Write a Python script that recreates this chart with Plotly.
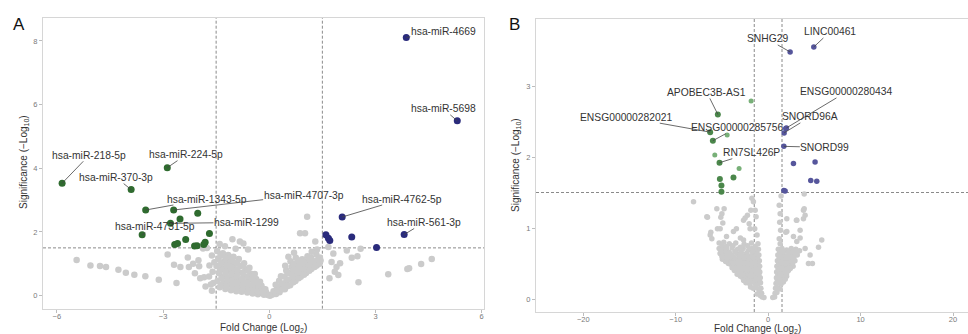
import plotly.graph_objects as go

# ---------------- Panel A data (miRNA) ----------------
a_down_names = ["hsa-miR-218-5p", "hsa-miR-370-3p", "hsa-miR-224-5p", "hsa-miR-1343-5p", "hsa-miR-4707-3p",
                "", "", "hsa-miR-1299", "hsa-miR-4731-5p", "", "", "", "", "", "", "", ""]
a_down_x = [-5.85, -3.90, -2.88, -3.49, -2.70, -2.02, -2.52, -2.79, -3.59, -1.69, -2.36, -2.67, -2.59, -2.11, -2.04, -1.85, -1.81]
a_down_y = [3.53, 3.33, 4.02, 2.69, 2.69, 2.59, 2.41, 2.27, 1.91, 1.95, 1.76, 1.61, 1.64, 1.56, 1.57, 1.61, 1.68]

a_up_names = ["hsa-miR-4669", "hsa-miR-5698", "hsa-miR-4762-5p", "hsa-miR-561-3p", "", "", "", "", ""]
a_up_x = [3.87, 5.31, 2.06, 3.81, 1.60, 1.67, 1.71, 2.33, 3.03]
a_up_y = [8.11, 5.49, 2.47, 1.92, 1.91, 1.80, 1.73, 1.84, 1.51]

a_ns_x = [
    -5.44, -5.05, -4.78, -4.61, -4.26, -4.05, -3.81, -3.50, -3.12, -2.62, -2.87, -2.69, -2.51, -2.27, -2.00, -1.98,
    -1.80, -1.84, -1.69, -1.62, -1.76, -1.87,
    -1.04, -0.83, -0.73, -1.25, -0.95, -1.40, -0.60,
    -1.47, -1.44, -1.49, -1.42, -1.46, -1.40,
    -1.31, -1.28, -1.33, -1.26, -1.30, -1.24,
    -1.16, -1.12, -1.18, -1.10, -1.14, -1.08,
    -1.01, -0.97, -1.03, -0.95, -0.99, -0.93,
    -0.86, -0.82, -0.88, -0.80, -0.84, -0.78,
    -0.71, -0.67, -0.73, -0.65, -0.69, -0.62,
    -0.56, -0.52, -0.58, -0.50, -0.54, -0.47,
    -0.41, -0.37, -0.43, -0.35, -0.39, -0.32,
    -0.26, -0.22, -0.28, -0.20, -0.15,
    -0.11, -0.08, -0.04, 0.02,
    -1.60, -1.58, -1.62, -1.70, -1.55,
    -1.38, -1.36, -1.39, -1.35, -1.37,
    -1.22, -1.20, -1.23, -1.19, -1.21,
    -1.06, -1.05, -1.07, -1.03, -1.04,
    -0.91, -0.90, -0.92, -0.89, -0.90,
    -0.76, -0.75, -0.77, -0.74, -0.75,
    -0.61, -0.60, -0.62, -0.59, -0.60,
    -0.46, -0.45, -0.47, -0.44,
    -0.31, -0.30, -0.32, -0.18, -0.17,
    -2.10, -2.30, -1.95, -2.15, -1.65,
    0.08, 0.12, 0.19, 0.22, 0.18, 0.29, 0.32, 0.28, 0.33,
    0.44, 0.47, 0.43, 0.48, 0.45, 0.59, 0.62, 0.58, 0.63, 0.60,
    0.74, 0.77, 0.73, 0.78, 0.75, 0.89, 0.92, 0.88, 0.93,
    1.04, 1.07, 1.03, 1.08, 1.19, 1.22, 1.18, 1.34, 1.37, 1.33,
    0.25, 0.37, 0.38, 0.52, 0.53, 0.52, 0.68, 0.67, 0.68, 0.69, 0.83, 0.82, 0.84, 0.83,
    0.98, 0.97, 0.99, 1.13, 1.12, 1.13, 1.28, 1.27, 1.42, 1.43,
    0.54, 0.87, 1.01, 1.07, 1.30, 1.35, 1.20, 0.70, 1.45,
    1.67, 1.81, 1.76, 1.90, 2.19, 2.33, 2.58, 2.49, 2.52, 3.36, 3.90, 3.95, 4.29, 4.59, 1.85, 1.95, 1.70, 2.00,
]
a_ns_y = [
    1.12, 0.95, 0.93, 0.90, 0.81, 0.72, 0.66, 0.61, 0.50, 0.40, 1.29, 0.97, 0.90, 0.90, 1.11, 0.92,
    0.29, 0.58, 0.95, 1.26, 1.50, 1.48,
    1.77, 1.70, 1.64, 1.55, 1.47, 1.62, 1.45,
    1.40, 1.15, 0.93, 0.70, 0.47, 0.26,
    1.33, 1.08, 0.86, 0.62, 0.39, 0.21,
    1.28, 1.04, 0.80, 0.57, 0.35, 0.17,
    1.22, 0.99, 0.76, 0.54, 0.32, 0.14,
    1.15, 0.93, 0.71, 0.49, 0.29, 0.12,
    1.02, 0.83, 0.62, 0.42, 0.24, 0.10,
    0.88, 0.69, 0.50, 0.33, 0.18, 0.07,
    0.68, 0.52, 0.37, 0.23, 0.11, 0.04,
    0.44, 0.31, 0.19, 0.09, 0.03,
    0.20, 0.09, 0.02, 0.00,
    0.75, 0.40, 0.15, 0.60, 1.05,
    1.25, 1.00, 0.78, 0.55, 0.33,
    1.18, 0.95, 0.70, 0.47, 0.27,
    1.12, 0.88, 0.66, 0.44, 0.24,
    1.05, 0.82, 0.60, 0.40, 0.21,
    0.95, 0.73, 0.52, 0.33, 0.17,
    0.78, 0.59, 0.40, 0.25, 0.12,
    0.60, 0.45, 0.28, 0.15,
    0.40, 0.27, 0.14, 0.22, 0.12,
    0.70, 1.20, 0.55, 1.00, 0.35,
    0.03, 0.14, 0.05, 0.21, 0.34, 0.11, 0.29, 0.47, 0.61,
    0.20, 0.41, 0.59, 0.79, 0.94, 0.33, 0.52, 0.71, 0.90, 1.08,
    0.46, 0.64, 0.84, 1.01, 1.19, 0.59, 0.79, 0.97, 1.14,
    0.71, 0.90, 1.07, 1.24, 0.84, 1.03, 1.20, 0.95, 1.12, 1.29,
    0.15, 0.20, 0.38, 0.30, 0.50, 0.70, 0.42, 0.62, 0.80, 1.00, 0.55, 0.74, 0.92, 1.10,
    0.66, 0.85, 1.02, 0.78, 0.96, 1.14, 0.90, 1.08, 1.00, 1.20,
    1.22, 1.96, 1.96, 2.48, 1.70, 1.45, 1.38, 1.35, 1.10,
    1.53, 1.32, 1.06, 0.90, 1.42, 1.19, 1.47, 1.24, 0.42, 0.67, 0.84, 0.86, 0.99, 1.15, 0.75, 0.65, 0.55, 1.02,
]

# ---------------- Panel B data (lncRNA etc.) ----------------
b_down_names = ["APOBEC3B-AS1", "ENSG00000282021", "ENSG00000285756", "RN7SL426P", "", "", "", ""]
b_down_x = [-5.44, -6.27, -5.98, -5.26, -5.22, -5.05, -5.05, -3.75]
b_down_y = [2.60, 2.35, 2.23, 1.92, 1.69, 1.60, 1.51, 1.71]
b_down2_x = [-1.84, -4.43, -5.77, -3.14]
b_down2_y = [2.79, 2.31, 2.03, 1.84]

b_up_names = ["SNHG29", "LINC00461", "ENSG00000280434", "SNORD96A", "", "SNORD99", "", "", "", "", "", ""]
b_up_x = [2.38, 4.94, 1.98, 1.73, 1.91, 1.70, 2.74, 5.08, 4.61, 5.26, 1.70, 1.84]
b_up_y = [3.48, 3.55, 2.41, 2.34, 2.40, 2.15, 1.91, 1.93, 1.67, 1.66, 1.53, 1.52]

b_ns_x = [
    -0.45, -0.65, -0.85,
    -0.70, -0.95, -1.20,
    -0.78, -1.02, -1.30, -1.62, -1.90,
    -0.82, -1.10, -1.42, -1.72, -2.02, -2.40,
    -0.85, -1.15, -1.47, -1.80, -2.12, -2.45, -2.75, -3.00,
    -0.90, -1.20, -1.55, -1.90, -2.25, -2.60, -2.95, -3.30, -3.65,
    -0.92, -1.25, -1.60, -2.00, -2.35, -2.70, -3.05, -3.40, -3.75, -4.05, -4.30,
    -0.95, -1.30, -1.70, -2.10, -2.50, -2.90, -3.30, -3.70, -4.10, -4.50, -4.95,
    -1.00, -1.40, -1.90, -2.40, -2.90, -3.40, -3.90, -4.35, -4.80, -5.20,
    -1.05, -1.50, -2.10, -2.70, -3.30, -3.90, -4.50, -5.00, -5.30,
    -1.10, -1.80, -2.60, -3.50, -4.20, -4.80, -5.30,
    -0.95, -1.30, -1.65, -2.00, -2.35, -2.65,
    -1.00, -1.35, -1.70, -2.05, -2.40, -2.75, -3.10, -3.35,
    -1.05, -1.40, -1.75, -2.10, -2.45, -2.80, -3.15, -3.50, -3.90,
    -1.10, -1.45, -1.85, -2.30, -2.70, -3.10, -3.50, -3.90, -4.30, -4.60,
    -1.15, -1.60, -2.15, -2.65, -3.15, -3.65, -4.10, -4.55, -5.00,
    -1.25, -1.70, -2.30, -2.90, -3.60, -4.20, -4.70, -5.10,
    -1.40, -2.20, -3.00, -3.80, -4.50, -5.00,
    -8.07, -6.56, -6.63, -5.55, -4.76, -5.12, -5.48, -6.20, -6.27, -6.09, -5.19, -5.00, -4.90, -3.43, -3.75,
    -2.05, -1.87, -2.24, -2.66, -2.49, -1.95, -1.76, -2.66, -1.59, -1.40, -1.76, -1.30, -1.45, -1.20, -4.50, -3.00,
    0.50, 0.70, 0.75, 0.95, 0.80, 1.05, 1.30,
    0.85, 1.10, 1.40, 1.65,
    0.90, 1.15, 1.45, 1.75, 2.00,
    0.92, 1.20, 1.50, 1.85, 2.20,
    0.95, 1.25, 1.60, 1.95, 2.35, 2.70,
    1.00, 1.30, 1.70, 2.10, 2.50, 2.90,
    1.05, 1.40, 1.80, 2.25, 2.70, 3.15,
    1.10, 1.50, 2.00, 2.50, 3.00, 3.40,
    1.00, 1.30, 1.55, 1.85,
    1.05, 1.35, 1.65, 2.00,
    1.10, 1.40, 1.75, 2.10, 2.40,
    1.15, 1.45, 1.85, 2.25, 2.65,
    1.20, 1.55, 2.00, 2.40, 2.80,
    1.25, 1.70, 2.20, 2.75, 3.20,
    1.20, 1.30, 1.25, 1.35, 1.20, 1.30, 2.02, 3.10, 3.82, 4.00, 3.90, 3.82, 2.74, 3.46, 3.10, 4.00,
    4.54, 4.36, 5.80, 5.45, 2.02, 1.91, 3.46, 4.79, 3.06, 3.90, 1.40,
]
b_ns_y = [
    0.02, 0.03, 0.05,
    0.08, 0.09, 0.07,
    0.15, 0.14, 0.16, 0.15, 0.17,
    0.23, 0.21, 0.22, 0.24, 0.22, 0.23,
    0.30, 0.31, 0.29, 0.31, 0.30, 0.32, 0.30, 0.32,
    0.38, 0.39, 0.37, 0.39, 0.38, 0.40, 0.38, 0.39, 0.40,
    0.46, 0.47, 0.45, 0.47, 0.46, 0.48, 0.46, 0.47, 0.48, 0.49, 0.50,
    0.54, 0.55, 0.53, 0.55, 0.54, 0.56, 0.54, 0.55, 0.56, 0.57, 0.56,
    0.62, 0.63, 0.61, 0.63, 0.62, 0.64, 0.62, 0.63, 0.65, 0.64,
    0.70, 0.71, 0.69, 0.71, 0.70, 0.72, 0.70, 0.72, 0.71,
    0.78, 0.79, 0.77, 0.79, 0.78, 0.80, 0.79,
    0.26, 0.27, 0.25, 0.26, 0.27, 0.26,
    0.34, 0.35, 0.33, 0.34, 0.35, 0.34, 0.36, 0.35,
    0.42, 0.43, 0.41, 0.42, 0.43, 0.42, 0.44, 0.43, 0.44,
    0.50, 0.51, 0.49, 0.50, 0.51, 0.50, 0.52, 0.51, 0.52, 0.53,
    0.58, 0.59, 0.57, 0.58, 0.59, 0.58, 0.60, 0.59, 0.60,
    0.66, 0.67, 0.65, 0.66, 0.67, 0.66, 0.68, 0.67,
    0.74, 0.75, 0.73, 0.75, 0.74, 0.76,
    1.37, 1.15, 1.16, 1.27, 1.27, 1.15, 0.99, 0.94, 0.90, 0.85, 0.99, 1.20, 1.07, 0.99, 0.95,
    1.06, 1.25, 1.18, 1.11, 1.14, 0.99, 0.71, 0.83, 1.37, 1.25, 1.42, 1.16, 0.99, 0.90, 0.88, 0.86,
    0.02, 0.03, 0.08, 0.09, 0.15, 0.16, 0.14,
    0.22, 0.23, 0.21, 0.24,
    0.30, 0.31, 0.29, 0.31, 0.32,
    0.38, 0.39, 0.37, 0.39, 0.40,
    0.46, 0.47, 0.45, 0.47, 0.48, 0.46,
    0.54, 0.55, 0.53, 0.55, 0.56, 0.54,
    0.62, 0.63, 0.61, 0.63, 0.64, 0.62,
    0.70, 0.71, 0.69, 0.71, 0.70, 0.68,
    0.26, 0.27, 0.26, 0.28,
    0.34, 0.35, 0.34, 0.36,
    0.42, 0.43, 0.42, 0.44, 0.43,
    0.50, 0.51, 0.50, 0.52, 0.51,
    0.58, 0.59, 0.58, 0.60, 0.59,
    0.66, 0.67, 0.66, 0.68, 0.67,
    1.32, 1.20, 1.08, 0.97, 0.85, 0.78, 1.13, 1.11, 1.25, 1.18, 1.27, 1.13, 0.88, 0.86, 0.81, 0.71,
    0.62, 0.50, 0.83, 0.73, 0.95, 0.94, 0.97, 0.50, 1.11, 1.48, 1.45,
]

a_xticks = [-6, -3, 0, 3, 6]
a_yticks = [0, 2, 4, 6, 8]
b_xticks = [-20, -10, 0, 10, 20]
b_yticks = [0, 1, 2, 3]
fc_cut = 1.5
sig_cut = 1.5

# ---------------- styling ----------------
FONT = "Liberation Sans, Arial, sans-serif"
GREY = "#cbcbcb"
A_GREEN = "#2f6b2f"
A_BLUE = "#2a2b7c"
B_GREEN = "#4b874b"
B_GREEN2 = "#78b078"
B_BLUE = "#56569c"
TXT = "#333333"

# label offsets (pixels, text centre relative to point)
a_offsets = {
    "hsa-miR-4669": (37, -6), "hsa-miR-5698": (-14, -12), "hsa-miR-218-5p": (27, -28),
    "hsa-miR-224-5p": (19, -13), "hsa-miR-370-3p": (-15, -12), "hsa-miR-1343-5p": (61, -11),
    "hsa-miR-4707-3p": (130, -15), "hsa-miR-4762-5p": (60, -18), "hsa-miR-561-3p": (20, -12),
    "hsa-miR-1299": (76, -1), "hsa-miR-4731-5p": (13, -8),
}
b_offsets = {
    "SNHG29": (-23, -13), "LINC00461": (16, -15), "APOBEC3B-AS1": (-11, -22),
    "ENSG00000280434": (60, -36), "SNORD96A": (26, -16), "ENSG00000282021": (-84, -15),
    "ENSG00000285756": (24, -13), "SNORD99": (41, 1), "RN7SL426P": (32, -10),
}

fig = go.Figure()

def add_pts(x, y, color, size, xa, ya):
    fig.add_trace(go.Scatter(x=x, y=y, mode="markers", xaxis=xa, yaxis=ya,
                             marker=dict(color=color, size=size, line=dict(width=0)),
                             hoverinfo="x+y", showlegend=False))

add_pts(a_ns_x, a_ns_y, GREY, 6.5, "x", "y")
add_pts(a_down_x, a_down_y, A_GREEN, 7, "x", "y")
add_pts(a_up_x, a_up_y, A_BLUE, 7, "x", "y")
add_pts(b_ns_x, b_ns_y, GREY, 5.5, "x2", "y2")
add_pts(b_down2_x, b_down2_y, B_GREEN2, 5, "x2", "y2")
add_pts(b_down_x, b_down_y, B_GREEN, 6, "x2", "y2")
add_pts(b_up_x, b_up_y, B_BLUE, 5.5, "x2", "y2")

annotations = []

def add_labels(names, xs, ys, offsets, xr, yr):
    for n, xv, yv in zip(names, xs, ys):
        if not n:
            continue
        ax, ay = offsets[n]
        annotations.append(dict(x=xv, y=yv, xref=xr, yref=yr, text=n, showarrow=True,
                                ax=ax, ay=ay, arrowhead=0, arrowwidth=0.8, arrowcolor="#444444",
                                standoff=0, borderpad=0,
                                font=dict(family=FONT, size=10.3, color=TXT)))

add_labels(a_down_names, a_down_x, a_down_y, a_offsets, "x", "y")
add_labels(a_up_names, a_up_x, a_up_y, a_offsets, "x", "y")
add_labels(b_down_names, b_down_x, b_down_y, b_offsets, "x2", "y2")
add_labels(b_up_names, b_up_x, b_up_y, b_offsets, "x2", "y2")

W, H = 968, 334
def px(xp):
    return xp / W
def py(yp):
    return 1 - yp / H

title_font = dict(family=FONT, size=10, color=TXT)
centre = dict(xref="paper", yref="paper", showarrow=False, xanchor="center", yanchor="middle")
annotations += [
    dict(x=px(18.5), y=py(24), text="A", font=dict(family=FONT, size=17, color="#111111"), **centre),
    dict(x=px(514), y=py(24), text="B", font=dict(family=FONT, size=17, color="#111111"), **centre),
    dict(x=px(263.5), y=py(327.5), text="Fold Change (Log<sub>2</sub>)", font=title_font, **centre),
    dict(x=px(757), y=py(328.5), text="Fold Change (Log<sub>2</sub>)", font=title_font, **centre),
    dict(x=px(24), y=py(162), text="Significance (\u2212Log<sub>10</sub>)", textangle=-90, font=title_font, **centre),
    dict(x=px(516), y=py(165), text="Significance (\u2212Log<sub>10</sub>)", textangle=-90, font=title_font, **centre),
]

shapes = []
DASH = dict(color="#8a8a8a", width=1, dash="3px,2px")
for v in (-fc_cut, fc_cut):
    shapes.append(dict(type="line", xref="x", yref="y domain", x0=v, x1=v, y0=0, y1=1, line=DASH, layer="below"))
    shapes.append(dict(type="line", xref="x2", yref="y2 domain", x0=v, x1=v, y0=0, y1=1, line=DASH, layer="below"))
shapes.append(dict(type="line", xref="x domain", yref="y", x0=0, x1=1, y0=sig_cut, y1=sig_cut, line=DASH, layer="below"))
shapes.append(dict(type="line", xref="x2 domain", yref="y2", x0=0, x1=1, y0=sig_cut, y1=sig_cut, line=DASH, layer="below"))

axis_common = dict(showgrid=False, zeroline=False, showline=True, linecolor="#d6d6d6", linewidth=1,
                   ticks="outside", ticklen=3, tickwidth=1, tickcolor="#bdbdbd",
                   tickfont=dict(family=FONT, size=7.5, color="#7a7a7a"))

fig.update_layout(
    width=W, height=H, margin=dict(l=0, r=0, t=0, b=0),
    paper_bgcolor="white", plot_bgcolor="white", showlegend=False,
    xaxis=dict(domain=[px(43), px(484)], range=[-6.39, 6.065], tickvals=a_xticks, anchor="y",
               mirror=True, ticklabelstandoff=-3, **axis_common),
    yaxis=dict(domain=[py(308.7), py(18)], range=[-0.41, 8.72], tickvals=a_yticks, anchor="x",
               mirror=True, **axis_common),
    xaxis2=dict(domain=[px(536), 1.0], range=[-25.11, 21.62], tickvals=b_xticks, anchor="y2",
                mirror=True, ticklabelstandoff=-3, **axis_common),
    yaxis2=dict(domain=[py(312), py(19)], range=[-0.183, 3.944], tickvals=b_yticks, anchor="x2",
                **axis_common),
    annotations=annotations, shapes=shapes,
)

# remove the default 8px page margin so the figure sits at the window origin
fig.write_html("out.html", config={"displayModeBar": False},
               post_script="document.body.style.margin='0';document.body.style.overflow='hidden';")
